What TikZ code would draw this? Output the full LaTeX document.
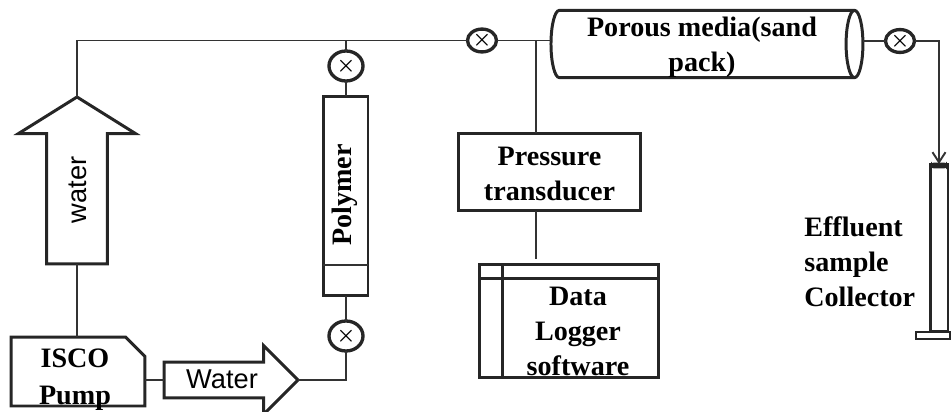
\documentclass[tikz,border=0pt]{standalone}
\usepackage{fontspec}
\setmainfont{Liberation Serif}
\setsansfont{Liberation Sans}
\usepackage{tikz}
\usetikzlibrary{arrows.meta, calc, shapes.geometric, shapes.arrows, shapes.misc}

\begin{document}
\begin{tikzpicture}[
  x=0.02cm, y=-0.02cm,
  block/.style = {draw=black!85, line width=1.7pt, outer sep=0pt, inner sep=0pt, align=center,
                  font=\bfseries\fontsize{16}{19.9}\selectfont},
  plainlabel/.style = {inner sep=0pt, align=center, font=\bfseries\fontsize{16}{19.9}\selectfont},
  valvev/.style = {draw=black!85, ellipse, line width=1.9pt, inner sep=0pt, outer sep=0pt,
                   minimum width=0.68cm, minimum height=0.6cm, font=\fontsize{12}{12}\selectfont\boldmath},
  valveh/.style = {valvev, minimum width=0.58cm, minimum height=0.44cm},
  flowarrow/.style = {draw=black!85, line width=1.7pt, single arrow, inner sep=0pt, outer sep=0pt,
                      single arrow head indent=0pt, font=\sffamily\fontsize{15.5}{18}\selectfont},
  pipe/.style = {draw=black!80, line width=1.1pt}
]
  \useasboundingbox (0,0) rectangle (951,412);

  % ======================================================
  % Pump and the two water arrows
  % ======================================================
  \node[block, chamfered rectangle, chamfered rectangle corners=north east,
        chamfered rectangle xsep=0.22cm, chamfered rectangle ysep=0.2cm,
        minimum width=2.68cm, minimum height=1.38cm] (pump) at (78,371.5) {\phantom{ISCO}};
  \node[plainlabel] (pumptext) at (75,380) {ISCO\\[1pt]Pump};

  \node[flowarrow, rotate=90, anchor=tip, minimum height=3.34cm, text height=0.78cm, text depth=0.38cm,
        single arrow head extend=0.56cm, single arrow tip angle=116] (waterup) at (77,97) {water\hspace{0.28cm}};

  \node[flowarrow, anchor=tip, minimum height=2.68cm, text height=0.5cm, text depth=0.16cm,
        single arrow head extend=0.33cm, single arrow tip angle=90] (waterright) at (298,380) {Water};

  % ======================================================
  % Polymer column and its valves
  % ======================================================
  \node[valvev] (valvelow) at (346,336) {$\times$};
  \node[valvev] (valveup) at (346,66) {$\times$};
  \node[block, minimum width=0.9cm, minimum height=4cm] (polymer) at (345.5,196) {};
  \node[plainlabel, rotate=90] (polymertext) at (345,195) {Polymer};
  \draw[pipe] ($(polymer.south west)+(0,-31)$) -- ($(polymer.south east)+(0,-31)$);

  % ======================================================
  % Sand pack and main line
  % ======================================================
  \node[valveh] (valvemain) at (482,40.5) {$\times$};
  \node[valveh] (valveout) at (900,41) {$\times$};
  \node[block, cylinder, shape aspect=0.25, minimum height=6.24cm, minimum width=1.34cm] (porous) at (702,44)
    {\rule{0pt}{15pt}Porous media(sand\\pack)};
  \coordinate (junction) at (536,40.5);

  % ======================================================
  % Transducer and logger
  % ======================================================
  \node[block, minimum width=3.66cm, minimum height=1.56cm] (transducer) at (549.5,172)
    {\rule{0pt}{13pt}Pressure\\transducer};
  \node[block, minimum width=3.6cm, minimum height=2.28cm] (logger) at (569,321) {};
  \node[plainlabel] (loggertext) at (578,331) {Data\\Logger\\software};
  \draw[block] ($(logger.north west)+(0,14)$) -- ($(logger.north east)+(0,14)$);
  \draw[block] ($(logger.north west)+(23,0)$) -- ($(logger.south west)+(23,0)$);

  % ======================================================
  % Collector
  % ======================================================
  \node[block, anchor=north, minimum width=0.36cm, minimum height=3.36cm] (tube) at (939,164) {};
  \node[block, anchor=north, fill=black!85, rounded corners=1pt, minimum width=0.26cm, minimum height=0.06cm] (tubecap) at (939,164) {};
  \node[block, anchor=north west, minimum width=0.68cm, minimum height=0.14cm] (tubebase) at (916,332) {};
  \node[plainlabel, anchor=west, align=left] (collectortext) at (804,262) {Effluent\\sample\\Collector};

  % connectors
  \draw[pipe] (pump.east |- waterright.tail) -- (waterright.tail);
  \draw[pipe] (pump.north -| waterup.tail) -- (waterup.tail);
  \draw[pipe] (waterright.tip) -| (valvelow.south);
  \draw[pipe] (valvelow.north) -- (polymer.south -| valvelow.north);
  \draw[pipe] (valveup.south) -- (polymer.north -| valveup.south);
  \draw[pipe] (waterup.tip) |- (valvemain.west);
  \draw[pipe] (valveup.north) -- (valveup |- valvemain);
  \draw[pipe] (valvemain.east) -- (valvemain.east -| porous.west);
  \draw[pipe] (junction) -- (junction |- transducer.north);
  \draw[pipe, shorten >=0.1cm] (junction |- transducer.south) -- (junction |- logger.north);
  \draw[pipe] (valveout.west -| porous.east) -- (valveout.west);
  \draw[pipe, -{Straight Barb[length=2mm, width=2.6mm]}] (valveout.east) -| (tube.north);

\end{tikzpicture}
\end{document}
